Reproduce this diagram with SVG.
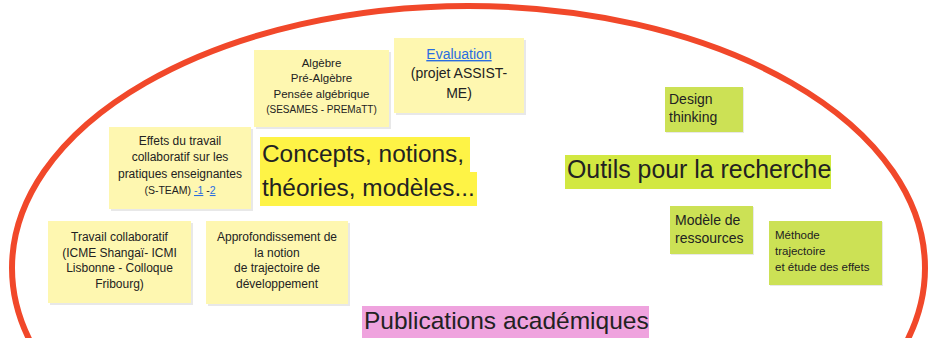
<svg xmlns="http://www.w3.org/2000/svg" width="928" height="338" viewBox="0 0 928 338">
<style>
text{font-family:"Liberation Sans",Arial,sans-serif;fill:#222}
.y{fill:#fef7b0}
.g{fill:#cce155}
.sh{fill:#000;opacity:0.09}
.c{text-anchor:middle}
.t12{font-size:12px}
.t115{font-size:11.5px}
.t10{font-size:10px}
.t14{font-size:14px}
.big{font-size:24.4px}
.lnk{fill:#2a6de0;text-decoration:underline}
</style>
<rect width="928" height="338" fill="#fff"/>
<g id="boundary">
<ellipse cx="468.5" cy="268" rx="456.5" ry="262" fill="none" stroke="#f1482a" stroke-width="6"/>
</g>
<g id="connectors"></g>
<g id="algebre">
<rect class="sh" x="256" y="52" width="135" height="77"/>
<rect class="y" x="254" y="50" width="135" height="77"/>
<text class="c t115" x="321.5"><tspan x="321.5" y="66.5">Algèbre</tspan><tspan x="321.5" y="82">Pré-Algèbre</tspan><tspan x="321.5" y="98">Pensée algébrique</tspan><tspan x="321.5" y="113" class="t10">(SESAMES - PREMaTT)</tspan></text>
</g>
<g id="evaluation">
<rect class="sh" x="396" y="40" width="130" height="75"/>
<rect class="y" x="394" y="38" width="130" height="75"/>
<text class="c t14" x="459"><tspan x="459" y="59" class="lnk">Evaluation</tspan><tspan x="459" y="78">(projet ASSIST-</tspan><tspan x="459" y="97.5">ME)</tspan></text>
</g>
<g id="effets">
<rect class="sh" x="111" y="129" width="142" height="82"/>
<rect class="y" x="109" y="127" width="142" height="82"/>
<text class="c t12" x="180"><tspan x="180" y="145">Effets du travail</tspan><tspan x="180" y="161.3">collaboratif sur les</tspan><tspan x="180" y="177.6">pratiques enseignantes</tspan><tspan x="180" y="194" font-size="10.5">(S-TEAM) <tspan class="lnk">-1</tspan> -<tspan class="lnk">2</tspan></tspan></text>
</g>
<g id="concepts">
<rect x="260" y="137" width="210" height="35" fill="#fef346"/>
<rect x="260" y="172" width="217" height="34" fill="#fef346"/>
<text class="big" x="262"><tspan x="262" y="161.5">Concepts, notions,</tspan><tspan x="262" y="195.5">théories, modèles...</tspan></text>
</g>
<g id="travail">
<rect class="sh" x="50" y="223" width="143" height="82"/>
<rect class="y" x="48" y="221" width="143" height="82"/>
<text class="c t12" x="119.5"><tspan x="119.5" y="240.5">Travail collaboratif</tspan><tspan x="119.5" y="256.5">(ICME Shangaï- ICMI</tspan><tspan x="119.5" y="272.3">Lisbonne - Colloque</tspan><tspan x="119.5" y="288.3">Fribourg)</tspan></text>
</g>
<g id="approfondissement">
<rect class="sh" x="208" y="223" width="142" height="83"/>
<rect class="y" x="206" y="221" width="142" height="83"/>
<text class="c t12" x="277"><tspan x="277" y="240.5">Approfondissement de</tspan><tspan x="277" y="256.5">la notion</tspan><tspan x="277" y="272.3">de trajectoire de</tspan><tspan x="277" y="288.3">développement</tspan></text>
</g>
<g id="publications">
<rect x="362" y="306" width="287" height="34" fill="#efa3de"/>
<text x="364" y="329" font-size="24.5">Publications académiques</text>
</g>
<g id="design">
<rect class="sh" x="666" y="88" width="78" height="45"/>
<rect class="g" x="665" y="87" width="78" height="45"/>
<text class="t14" x="669"><tspan x="669" y="104">Design</tspan><tspan x="669" y="122">thinking</tspan></text>
</g>
<g id="outils">
<rect x="565" y="155" width="266" height="34" fill="#d2e841"/>
<text x="567" y="178" font-size="24.9">Outils pour la recherche</text>
</g>
<g id="modele">
<rect class="sh" x="671" y="207" width="83" height="48"/>
<rect class="g" x="670" y="206" width="83" height="48"/>
<text class="t14" x="675"><tspan x="675" y="225">Modèle de</tspan><tspan x="675" y="243">ressources</tspan></text>
</g>
<g id="methode">
<rect class="sh" x="770" y="222" width="113" height="64"/>
<rect class="g" x="769" y="221" width="113" height="64"/>
<text x="775" font-size="11.5"><tspan x="775" y="239">Méthode</tspan><tspan x="775" y="255">trajectoire</tspan><tspan x="775" y="270.5">et étude des effets</tspan></text>
</g>
</svg>
